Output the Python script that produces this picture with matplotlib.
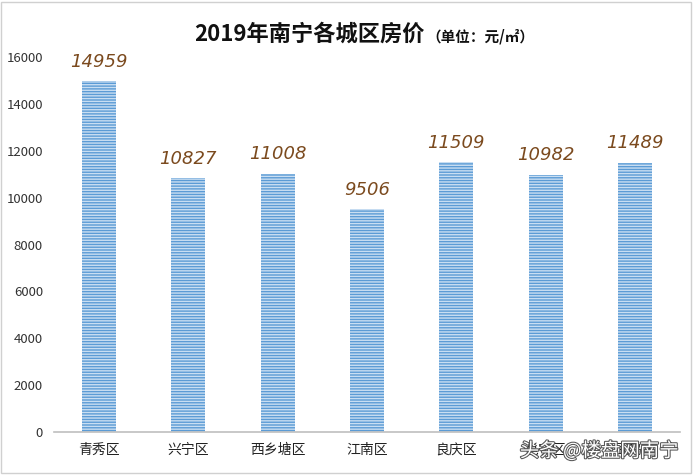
import matplotlib.pyplot as plt
import matplotlib.patheffects as pe
from matplotlib.patches import Rectangle

plt.rcParams['font.family'] = ['Noto Sans CJK SC', 'DejaVu Sans']
plt.rcParams['hatch.linewidth'] = 1.0

districts = ['青秀区', '兴宁区', '西乡塘区', '江南区', '良庆区', '邕宁区', '武鸣区']
prices = [14959, 10827, 11008, 9506, 11509, 10982, 11489]
yticks = [0, 2000, 4000, 6000, 8000, 10000, 12000, 14000, 16000]

fig = plt.figure(figsize=(6.93, 4.75), dpi=100)
ax = fig.add_axes([0.078, 0.0905, 0.903, 0.7895])

x = range(len(districts))
ax.bar(x, prices, width=0.38, color='#5B9BD5', edgecolor='#C9DEF2',
       linewidth=0, hatch='------')

for i, v in zip(x, prices):
    ax.text(i, v + 450, str(v), ha='center', va='bottom', fontsize=13,
            style='italic', color='#7B4A1E', family=['DejaVu Sans'])

ax.set_xlim(-0.5, len(districts) - 0.5)
ax.set_ylim(0, 16000)
ax.set_yticks(yticks)
ax.set_yticklabels([str(t) for t in yticks], fontsize=9.5, color='#333333')
ax.set_xticks(list(x))
ax.set_xticklabels(districts, fontsize=10, color='#222222')
ax.tick_params(axis='both', length=0, pad=8)
for s in ['top', 'right', 'left']:
    ax.spines[s].set_visible(False)
ax.spines['bottom'].set_color('#BFBFBF')
ax.spines['bottom'].set_linewidth(1.2)

fig.text(0.613, 0.928, '2019年南宁各城区房价', ha='right', va='center',
         fontsize=16, fontweight='bold', color='#111111')
fig.text(0.615, 0.924, '（单位：元/㎡）', ha='left', va='center',
         fontsize=10.5, fontweight='bold', color='#111111')

fig.text(0.98, 0.05, '头条 @楼盘网南宁', ha='right', va='center', fontsize=14,
         color='white',
         path_effects=[pe.withStroke(linewidth=1.5, foreground='#555555')])

fig.patches.append(Rectangle((0.002, 0.004), 0.995, 0.992, transform=fig.transFigure,
                             fill=False, edgecolor='#D0D0D0', linewidth=1))

fig.savefig('out.png', dpi=100, facecolor='white')
